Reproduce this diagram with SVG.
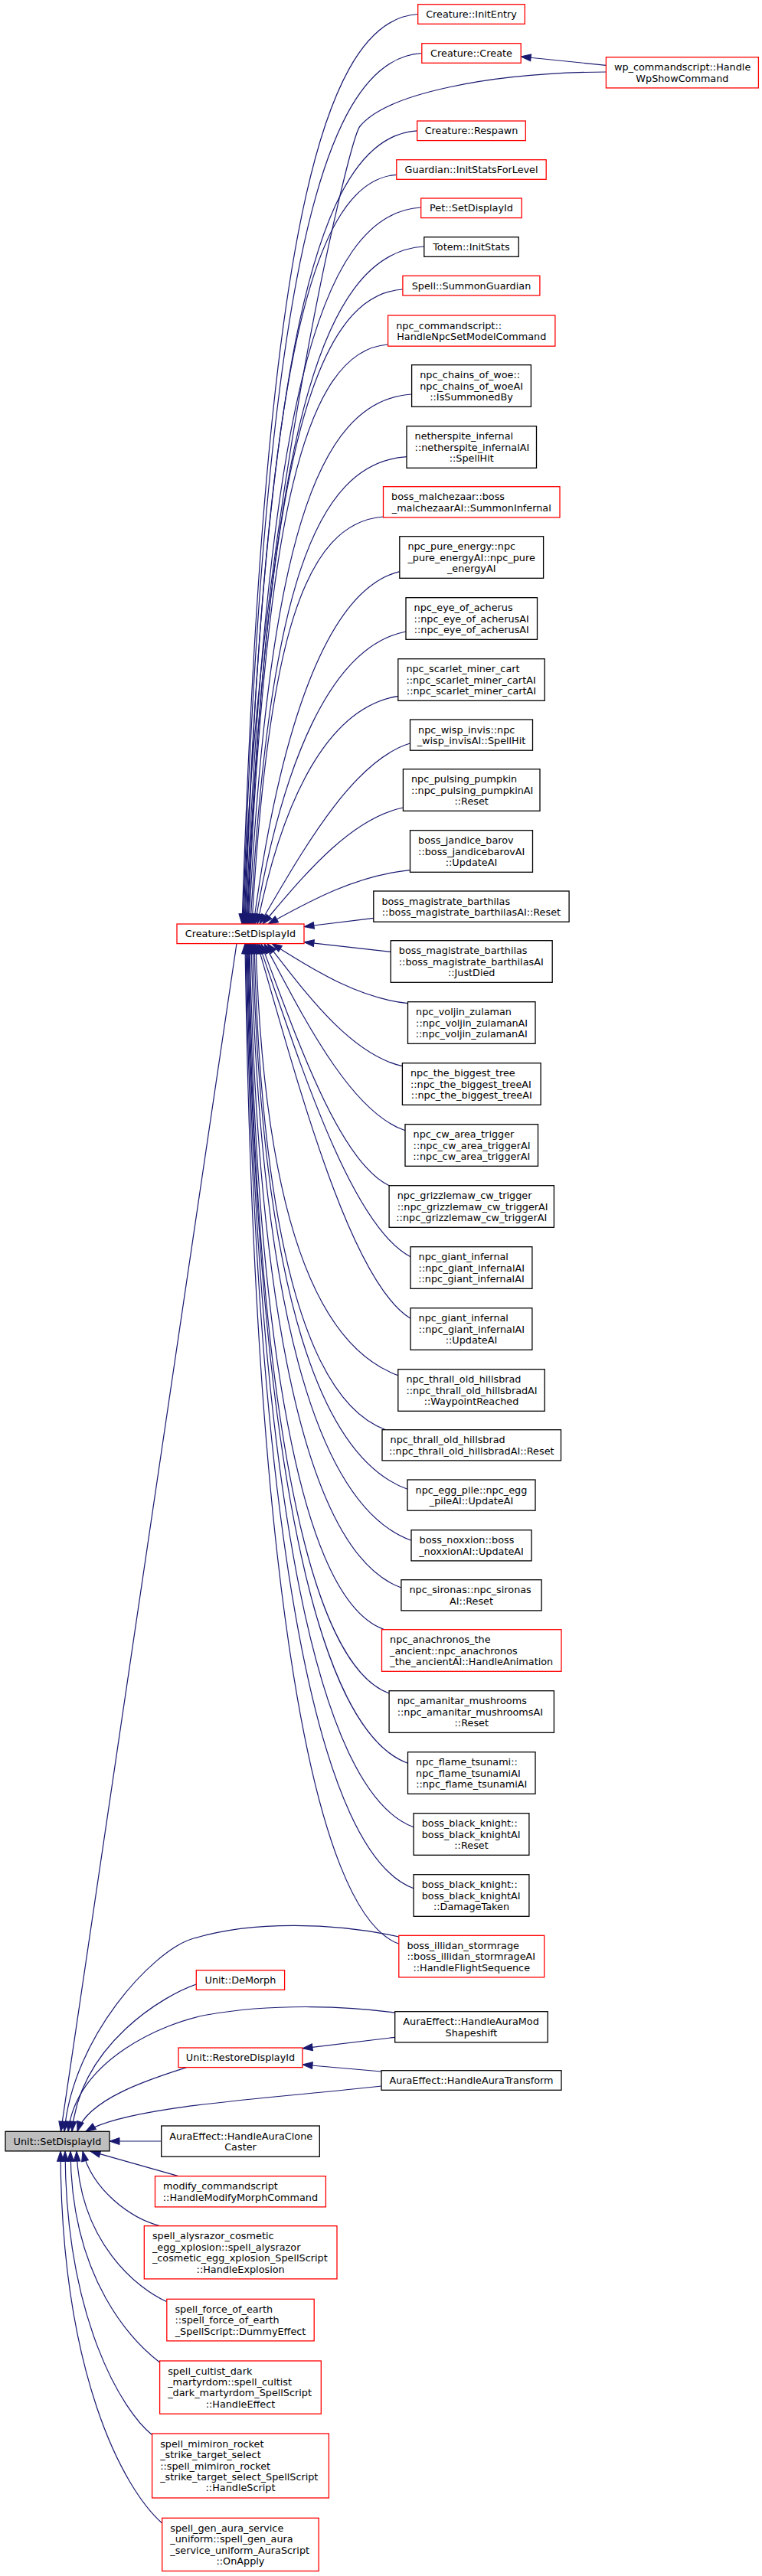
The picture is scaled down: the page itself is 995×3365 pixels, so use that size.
<svg xmlns="http://www.w3.org/2000/svg" width="995" height="3365" viewBox="0 0 995 3365">
<style>
text{font-family:"DejaVu Sans","Liberation Sans",sans-serif;font-size:12.8px;fill:#000}
.m{text-anchor:middle}
.l{text-anchor:start}
.r{fill:#fff;stroke:#ff0000;stroke-width:1.3}
.k{fill:#fff;stroke:#000;stroke-width:1.3}
.g{fill:#bfbfbf;stroke:#000;stroke-width:1.3}
.e{fill:none;stroke:#191970;stroke-width:1.2;marker-end:url(#ah)}
</style>
<defs>
<marker id="ah" markerWidth="14" markerHeight="10" refX="13" refY="5" orient="auto" markerUnits="userSpaceOnUse" overflow="visible"><path d="M0,0.5 L13,5 L0,9.5 Z" fill="#191970" stroke="#191970" stroke-width="1"/></marker>
</defs>
<rect x="0" y="0" width="995" height="3365" fill="#fff"/>
<g id="connectors">
<path class="e" d="M791.4,85.3 L680.2,74"/>
<path class="e" d="M545.7,18.5 C407.9,26.5 343.6,375.1 316,1207"/>
<path class="e" d="M550.8,69.5 C410.5,77.5 345.1,410.8 317,1207"/>
<path class="e" d="M791.4,94 C640,95 505,122 470,165 C455,183.4 332,700 318,1207"/>
<path class="e" d="M544.7,170.8 C409.3,178.8 346.1,481.7 319,1207"/>
<path class="e" d="M517.8,228.3 C399.1,236.3 343.7,521.9 320,1207"/>
<path class="e" d="M549.7,271 C412.5,279 348.4,551.8 321,1207"/>
<path class="e" d="M553.8,322 C414.7,330 349.8,587.5 322,1207"/>
<path class="e" d="M525.9,378 C404.2,386 347.3,626.7 323,1207"/>
<path class="e" d="M506.6,450 C397,458 345.9,677.1 324,1207"/>
<path class="e" d="M537.6,515 C410,523 350.5,722.6 325,1207"/>
<path class="e" d="M531,596.7 C408.6,604.7 351.5,779.8 327,1207"/>
<path class="e" d="M500.5,675 C397.6,683 349.6,834.6 329,1207"/>
<path class="e" d="M521.8,746.7 C426.4,769.7 365.3,953.8 331,1207"/>
<path class="e" d="M530,825 C431.5,844.1 368.5,996.9 333,1207"/>
<path class="e" d="M519.8,909.3 C427.9,924.2 369.1,1043.3 336,1207"/>
<path class="e" d="M535.5,971 C456.9,994.6 388.1,1124.4 339,1207"/>
<path class="e" d="M526.4,1055 C453,1070.2 388.9,1153.8 343,1207"/>
<path class="e" d="M535.5,1136.7 C461.3,1143.6 396.4,1181.7 350,1207"/>
<path class="e" d="M487.8,1199.3 L397,1210.5"/>
<path class="e" d="M510.2,1243.3 L397,1230.7"/>
<path class="e" d="M532.5,1310.7 C461.5,1302.9 399.4,1259.9 355,1232.6"/>
<path class="e" d="M525.4,1392.7 C454.8,1376.7 393.1,1288.6 349,1232.6"/>
<path class="e" d="M529,1476.7 C455.4,1452.3 391,1318 345,1232.6"/>
<path class="e" d="M508.1,1548.7 C441.3,1517.1 382.8,1343.2 341,1232.6"/>
<path class="e" d="M536,1641.7 C456.8,1600.8 387.5,1375.8 338,1232.6"/>
<path class="e" d="M536,1722.3 C456,1673.3 386,1404 336,1232.6"/>
<path class="e" d="M519.8,1796.7 C417.6,1759.5 345.1,1599.3 334,1232.6"/>
<path class="e" d="M503.6,1867.7 C409.2,1833.4 342.3,1645.4 332,1232.6"/>
<path class="e" d="M532,1945.3 C420.9,1904.9 342.1,1695.8 330,1232.6"/>
<path class="e" d="M537,2012.3 C422,1970.5 340.5,1739.4 328,1232.6"/>
<path class="e" d="M523.9,2074 C415.1,2034.4 337.9,1779.5 326,1232.6"/>
<path class="e" d="M501,2128.3 C404.2,2093.1 335.6,1814.8 325,1232.6"/>
<path class="e" d="M508.1,2212 C406.8,2175.2 335,1869.2 324,1232.6"/>
<path class="e" d="M532.5,2303.3 C417.3,2261.4 335.6,1928.6 323,1232.6"/>
<path class="e" d="M540.1,2386.7 C420.1,2343.1 335.1,1982.8 322,1232.6"/>
<path class="e" d="M540.1,2466.7 C419.6,2422.9 334.1,2034.8 321,1232.6"/>
<path class="e" d="M520.8,2539.3 C410.4,2499.1 332,2082 320,1232.6"/>
<path class="e" d="M515.7,2661.3 L395,2675.8"/>
<path class="e" d="M498,2706 L395,2697"/>
<path class="e" d="M309,1232.6 L79.4,2784.3"/>
<path class="e" d="M520.8,2530 C440,2512 330,2508 250,2533 C200,2548.6 95,2660 84,2784.3"/>
<path class="e" d="M515.7,2629.3 C460,2621 360,2616 270,2632 C215,2642 100,2690 89,2784.3"/>
<path class="e" d="M256.3,2592 C215,2606 105,2670 94,2784.3"/>
<path class="e" d="M244.7,2700.3 C205,2713 115,2740 101,2784.3"/>
<path class="e" d="M498,2725 C360,2741 170,2750 112,2784.3"/>
<path class="e" d="M210.7,2797 L143,2797"/>
<path class="e" d="M233,2842.7 L118,2810.2"/>
<path class="e" d="M210,2908 C170,2898 120,2860 108,2810.2"/>
<path class="e" d="M217.8,3006.7 C180,2990 104,2930 100,2810.2"/>
<path class="e" d="M208.6,3086 C175,3060 93,2980 92,2810.2"/>
<path class="e" d="M199,3181 C160,3150 86,3030 85,2810.2"/>
<path class="e" d="M211.7,3296 C160,3250 80,3100 79,2810.2"/>
</g>
<g id="n1"><rect class="r" x="545.7" y="5.7" width="139.6" height="25.6"/><text class="m" x="615.5" y="23.1">Creature::InitEntry</text></g>
<g id="n2"><rect class="r" x="550.8" y="56.7" width="129.4" height="25.6"/><text class="m" x="615.5" y="74.1">Creature::Create</text></g>
<g id="n3"><rect class="r" x="791.4" y="74.7" width="199" height="40.2"/><text class="l" x="802" y="92.2">wp_commandscript::Handle</text><text class="m" x="890.9" y="106.6">WpShowCommand</text></g>
<g id="n4"><rect class="r" x="544.7" y="158" width="141.6" height="25.6"/><text class="m" x="615.5" y="175.4">Creature::Respawn</text></g>
<g id="n5"><rect class="r" x="517.8" y="208.7" width="195.4" height="25.6"/><text class="m" x="615.5" y="226.1">Guardian::InitStatsForLevel</text></g>
<g id="n6"><rect class="r" x="549.7" y="259" width="131.5" height="25.6"/><text class="m" x="615.5" y="276.4">Pet::SetDisplayId</text></g>
<g id="n7"><rect class="k" x="553.8" y="309.7" width="123.4" height="25.6"/><text class="m" x="615.5" y="327.1">Totem::InitStats</text></g>
<g id="n8"><rect class="r" x="525.9" y="360.3" width="179" height="25.6"/><text class="m" x="615.5" y="377.7">Spell::SummonGuardian</text></g>
<g id="n9"><rect class="r" x="506.6" y="412" width="218.3" height="40.2"/><text class="l" x="517.2" y="429.5">npc_commandscript::</text><text class="m" x="615.75" y="443.9">HandleNpcSetModelCommand</text></g>
<g id="n10"><rect class="k" x="537.6" y="476.7" width="155.8" height="54.6"/><text class="l" x="548.2" y="494.2">npc_chains_of_woe::</text><text class="l" x="548.2" y="508.6">npc_chains_of_woeAI</text><text class="m" x="615.5" y="523">::IsSummonedBy</text></g>
<g id="n11"><rect class="k" x="531" y="556.7" width="169.5" height="54.6"/><text class="l" x="541.6" y="574.2">netherspite_infernal</text><text class="l" x="541.6" y="588.6">::netherspite_infernalAI</text><text class="m" x="615.75" y="603">::SpellHit</text></g>
<g id="n12"><rect class="r" x="500.5" y="635.7" width="230.5" height="40.2"/><text class="l" x="511.1" y="653.2">boss_malchezaar::boss</text><text class="m" x="615.75" y="667.6">_malchezaarAI::SummonInfernal</text></g>
<g id="n13"><rect class="k" x="521.8" y="700.7" width="187.8" height="54.6"/><text class="l" x="532.4" y="718.2">npc_pure_energy::npc</text><text class="l" x="532.4" y="732.6">_pure_energyAI::npc_pure</text><text class="m" x="615.7" y="747">_energyAI</text></g>
<g id="n14"><rect class="k" x="530" y="780.7" width="171.5" height="54.6"/><text class="l" x="540.6" y="798.2">npc_eye_of_acherus</text><text class="l" x="540.6" y="812.6">::npc_eye_of_acherusAI</text><text class="m" x="615.75" y="827">::npc_eye_of_acherusAI</text></g>
<g id="n15"><rect class="k" x="519.8" y="860.7" width="191.4" height="54.6"/><text class="l" x="530.4" y="878.2">npc_scarlet_miner_cart</text><text class="l" x="530.4" y="892.6">::npc_scarlet_miner_cartAI</text><text class="m" x="615.5" y="907">::npc_scarlet_miner_cartAI</text></g>
<g id="n16"><rect class="k" x="535.5" y="940" width="160" height="40.2"/><text class="l" x="546.1" y="957.5">npc_wisp_invis::npc</text><text class="m" x="615.5" y="971.9">_wisp_invisAI::SpellHit</text></g>
<g id="n17"><rect class="k" x="526.4" y="1004.7" width="178.6" height="54.6"/><text class="l" x="537" y="1022.2">npc_pulsing_pumpkin</text><text class="l" x="537" y="1036.6">::npc_pulsing_pumpkinAI</text><text class="m" x="615.7" y="1051">::Reset</text></g>
<g id="n18"><rect class="k" x="535.5" y="1084.7" width="160" height="54.6"/><text class="l" x="546.1" y="1102.2">boss_jandice_barov</text><text class="l" x="546.1" y="1116.6">::boss_jandicebarovAI</text><text class="m" x="615.5" y="1131">::UpdateAI</text></g>
<g id="n19"><rect class="k" x="487.8" y="1164" width="255.3" height="40.2"/><text class="l" x="498.4" y="1181.5">boss_magistrate_barthilas</text><text class="m" x="615.45" y="1195.9">::boss_magistrate_barthilasAI::Reset</text></g>
<g id="n20"><rect class="k" x="510.2" y="1228.7" width="211" height="54.6"/><text class="l" x="520.8" y="1246.2">boss_magistrate_barthilas</text><text class="l" x="520.8" y="1260.6">::boss_magistrate_barthilasAI</text><text class="m" x="615.7" y="1275">::JustDied</text></g>
<g id="n21"><rect class="k" x="532.5" y="1308.7" width="166.5" height="54.6"/><text class="l" x="543.1" y="1326.2">npc_voljin_zulaman</text><text class="l" x="543.1" y="1340.6">::npc_voljin_zulamanAI</text><text class="m" x="615.75" y="1355">::npc_voljin_zulamanAI</text></g>
<g id="n22"><rect class="k" x="525.4" y="1388.7" width="180.7" height="54.6"/><text class="l" x="536" y="1406.2">npc_the_biggest_tree</text><text class="l" x="536" y="1420.6">::npc_the_biggest_treeAI</text><text class="m" x="615.75" y="1435">::npc_the_biggest_treeAI</text></g>
<g id="n23"><rect class="k" x="529" y="1468.7" width="173.5" height="54.6"/><text class="l" x="539.6" y="1486.2">npc_cw_area_trigger</text><text class="l" x="539.6" y="1500.6">::npc_cw_area_triggerAI</text><text class="m" x="615.75" y="1515">::npc_cw_area_triggerAI</text></g>
<g id="n24"><rect class="k" x="508.1" y="1548.7" width="215.3" height="54.6"/><text class="l" x="518.7" y="1566.2">npc_grizzlemaw_cw_trigger</text><text class="l" x="518.7" y="1580.6">::npc_grizzlemaw_cw_triggerAI</text><text class="m" x="615.75" y="1595">::npc_grizzlemaw_cw_triggerAI</text></g>
<g id="n25"><rect class="k" x="536" y="1628.7" width="158.9" height="54.6"/><text class="l" x="546.6" y="1646.2">npc_giant_infernal</text><text class="l" x="546.6" y="1660.6">::npc_giant_infernalAI</text><text class="m" x="615.45" y="1675">::npc_giant_infernalAI</text></g>
<g id="n26"><rect class="k" x="536" y="1708.7" width="158.9" height="54.6"/><text class="l" x="546.6" y="1726.2">npc_giant_infernal</text><text class="l" x="546.6" y="1740.6">::npc_giant_infernalAI</text><text class="m" x="615.45" y="1755">::UpdateAI</text></g>
<g id="n27"><rect class="k" x="519.8" y="1788.7" width="191.4" height="54.6"/><text class="l" x="530.4" y="1806.2">npc_thrall_old_hillsbrad</text><text class="l" x="530.4" y="1820.6">::npc_thrall_old_hillsbradAI</text><text class="m" x="615.5" y="1835">::WaypointReached</text></g>
<g id="n28"><rect class="k" x="499" y="1867.7" width="233.5" height="40.2"/><text class="l" x="509.6" y="1885.2">npc_thrall_old_hillsbrad</text><text class="m" x="615.75" y="1899.6">::npc_thrall_old_hillsbradAI::Reset</text></g>
<g id="n29"><rect class="k" x="532" y="1933" width="167" height="40.2"/><text class="l" x="542.6" y="1950.5">npc_egg_pile::npc_egg</text><text class="m" x="615.5" y="1964.9">_pileAI::UpdateAI</text></g>
<g id="n30"><rect class="k" x="537" y="1998.7" width="157" height="40.2"/><text class="l" x="547.6" y="2016.2">boss_noxxion::boss</text><text class="m" x="615.5" y="2030.6">_noxxionAI::UpdateAI</text></g>
<g id="n31"><rect class="k" x="523.9" y="2063.7" width="183.2" height="40.2"/><text class="l" x="534.5" y="2081.2">npc_sironas::npc_sironas</text><text class="m" x="615.5" y="2095.6">AI::Reset</text></g>
<g id="n32"><rect class="r" x="498.5" y="2128.7" width="234.5" height="54.6"/><text class="l" x="509.1" y="2146.2">npc_anachronos_the</text><text class="l" x="509.1" y="2160.6">_ancient::npc_anachronos</text><text class="m" x="615.75" y="2175">_the_ancientAI::HandleAnimation</text></g>
<g id="n33"><rect class="k" x="508.1" y="2208.7" width="215.3" height="54.6"/><text class="l" x="518.7" y="2226.2">npc_amanitar_mushrooms</text><text class="l" x="518.7" y="2240.6">::npc_amanitar_mushroomsAI</text><text class="m" x="615.75" y="2255">::Reset</text></g>
<g id="n34"><rect class="k" x="532.5" y="2288.7" width="166.5" height="54.6"/><text class="l" x="543.1" y="2306.2">npc_flame_tsunami::</text><text class="l" x="543.1" y="2320.6">npc_flame_tsunamiAI</text><text class="m" x="615.75" y="2335">::npc_flame_tsunamiAI</text></g>
<g id="n35"><rect class="k" x="540.1" y="2368.7" width="150.8" height="54.6"/><text class="l" x="550.7" y="2386.2">boss_black_knight::</text><text class="l" x="550.7" y="2400.6">boss_black_knightAI</text><text class="m" x="615.5" y="2415">::Reset</text></g>
<g id="n36"><rect class="k" x="540.1" y="2448.7" width="150.8" height="54.6"/><text class="l" x="550.7" y="2466.2">boss_black_knight::</text><text class="l" x="550.7" y="2480.6">boss_black_knightAI</text><text class="m" x="615.5" y="2495">::DamageTaken</text></g>
<g id="n37"><rect class="r" x="520.8" y="2528.3" width="189.9" height="54.6"/><text class="l" x="531.4" y="2545.8">boss_illidan_stormrage</text><text class="l" x="531.4" y="2560.2">::boss_illidan_stormrageAI</text><text class="m" x="615.75" y="2574.6">::HandleFlightSequence</text></g>
<g id="n38"><rect class="k" x="515.7" y="2627.7" width="199.5" height="40.2"/><text class="l" x="526.3" y="2645.2">AuraEffect::HandleAuraMod</text><text class="m" x="615.45" y="2659.6">Shapeshift</text></g>
<g id="n39"><rect class="k" x="498" y="2704.7" width="235" height="25.6"/><text class="m" x="615.5" y="2722.1">AuraEffect::HandleAuraTransform</text></g>
<g id="c1"><rect class="r" x="231" y="1207" width="166" height="25.6"/><text class="m" x="314" y="1224.4">Creature::SetDisplayId</text></g>
<g id="c2"><rect class="r" x="256.3" y="2573.7" width="115.3" height="25.6"/><text class="m" x="313.95" y="2591.1">Unit::DeMorph</text></g>
<g id="c3"><rect class="r" x="233" y="2675" width="162" height="25.6"/><text class="m" x="314" y="2692.4">Unit::RestoreDisplayId</text></g>
<g id="c4"><rect class="k" x="210.7" y="2777" width="206.6" height="40.2"/><text class="l" x="221.3" y="2794.5">AuraEffect::HandleAuraClone</text><text class="m" x="314" y="2808.9">Caster</text></g>
<g id="c5"><rect class="r" x="202.5" y="2842.7" width="222.9" height="40.2"/><text class="l" x="213.1" y="2860.2">modify_commandscript</text><text class="m" x="313.95" y="2874.6">::HandleModifyMorphCommand</text></g>
<g id="c6"><rect class="r" x="188.3" y="2907.7" width="251.7" height="69.2"/><text class="l" x="198.9" y="2925.3">spell_alysrazor_cosmetic</text><text class="l" x="198.9" y="2939.7">_egg_xplosion::spell_alysrazor</text><text class="l" x="198.9" y="2954.1">_cosmetic_egg_xplosion_SpellScript</text><text class="m" x="314.15" y="2968.5">::HandleExplosion</text></g>
<g id="c7"><rect class="r" x="217.8" y="3003.3" width="192.4" height="54.6"/><text class="l" x="228.4" y="3020.8">spell_force_of_earth</text><text class="l" x="228.4" y="3035.2">::spell_force_of_earth</text><text class="m" x="314" y="3049.6">_SpellScript::DummyEffect</text></g>
<g id="c8"><rect class="r" x="208.6" y="3084" width="210.7" height="69.2"/><text class="l" x="219.2" y="3101.6">spell_cultist_dark</text><text class="l" x="219.2" y="3116">_martyrdom::spell_cultist</text><text class="l" x="219.2" y="3130.4">_dark_martyrdom_SpellScript</text><text class="m" x="313.95" y="3144.8">::HandleEffect</text></g>
<g id="c9"><rect class="r" x="198.6" y="3179" width="230.8" height="84"/><text class="l" x="209.2" y="3196.8">spell_mimiron_rocket</text><text class="l" x="209.2" y="3211.2">_strike_target_select</text><text class="l" x="209.2" y="3225.6">::spell_mimiron_rocket</text><text class="l" x="209.2" y="3240">_strike_target_select_SpellScript</text><text class="m" x="314" y="3254.4">::HandleScript</text></g>
<g id="c10"><rect class="r" x="211.7" y="3289.3" width="204.5" height="69.2"/><text class="l" x="222.3" y="3306.9">spell_gen_aura_service</text><text class="l" x="222.3" y="3321.3">_uniform::spell_gen_aura</text><text class="l" x="222.3" y="3335.7">_service_uniform_AuraScript</text><text class="m" x="313.95" y="3350.1">::OnApply</text></g>
<g id="u"><rect class="g" x="7" y="2784.3" width="136" height="25.6"/><text class="m" x="75" y="2801.7">Unit::SetDisplayId</text></g>
</svg>
